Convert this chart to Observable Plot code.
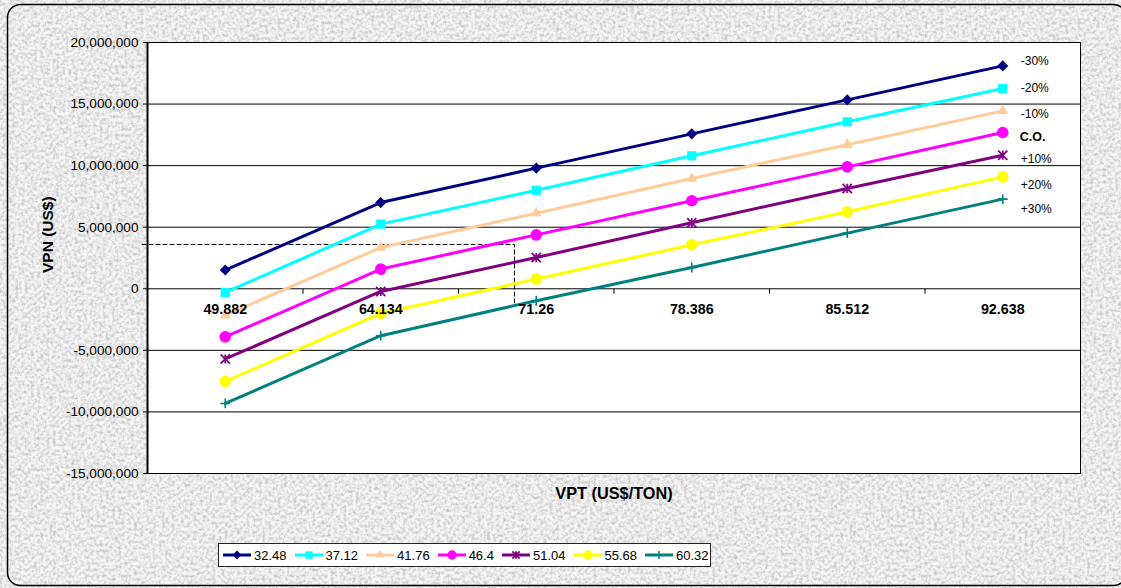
<!DOCTYPE html>
<html>
<head>
<meta charset="utf-8">
<script src="https://cdn.jsdelivr.net/npm/d3@7"></script>
<script src="https://cdn.jsdelivr.net/npm/@observablehq/plot@0.6"></script>
<style>
  html, body { margin: 0; padding: 0; }
  body {
    width: 1121px; height: 588px; overflow: hidden; position: relative;
    font-family: "Liberation Sans", Arial, sans-serif; background: #ececec;
  }
  #bg, #chart { position: absolute; left: 0; top: 0; }
  #legend {
    position: absolute; left: 218px; top: 543px; width: 487px; height: 22px;
    border: 1px solid #222; background: #fff; box-sizing: content-box;
    display: flex; align-items: center; padding-left: 4px;
    font-size: 13px; color: #000;
  }
  #legend .item { display: flex; align-items: center; margin-right: 8px; }
  #legend svg { margin-right: 3px; }
</style>
</head>
<body>
<svg id="bg" width="1121" height="588">
  <defs>
    <filter id="grain" x="0" y="0" width="100%" height="100%">
      <feTurbulence type="fractalNoise" baseFrequency="0.32" numOctaves="4" seed="11"/>
      <feColorMatrix type="matrix"
        values="0 0 0 0 0.55  0 0 0 0 0.55  0 0 0 0 0.55  2.1 0 0 0 -0.8"/>
    </filter>
  </defs>
  <rect width="1121" height="588" fill="#f5f5f5"/>
  <rect width="1121" height="588" filter="url(#grain)"/>
  <rect x="7.5" y="4.5" width="1119" height="581" rx="13" fill="none" stroke="#000" stroke-width="1.5"/>
</svg>
<div id="chart"></div>
<div id="legend"></div>
<script>
// Price categories on the x axis (VPT, US$/ton)
const categories = ["49.882", "64.134", "71.26", "78.386", "85.512", "92.638"];

// One NPV series per cost level (legend values)
const seriesNames = ["32.48", "37.12", "41.76", "46.4", "51.04", "55.68", "60.32"];
const vpn_3248 = [1520000, 7000000, 9800000, 12580000, 15340000, 18100000];
const vpn_3712 = [-300000, 5250000, 8000000, 10800000, 13560000, 16260000];
const vpn_4176 = [-2150000, 3350000, 6140000, 8950000, 11700000, 14450000];
const vpn_4640 = [-3900000, 1600000, 4380000, 7150000, 9900000, 12690000];
const vpn_5104 = [-5700000, -220000, 2540000, 5360000, 8150000, 10850000];
const vpn_5568 = [-7520000, -2000000, 790000, 3570000, 6250000, 9090000];
const vpn_6032 = [-9310000, -3810000, -970000, 1730000, 4520000, 7280000];
const seriesValues = [vpn_3248, vpn_3712, vpn_4176, vpn_4640, vpn_5104, vpn_5568, vpn_6032];

// Sensitivity labels placed to the right of the last category
const sensLabels = ["-30%", "-20%", "-10%", "C.O.", "+10%", "+20%", "+30%"];
const sensLabelY = [18460000, 16290000, 14210000, 12310000, 10560000, 8390000, 6440000];

// Dashed reading guide: [category position, VPN]
const guide = [[-0.535, 3600000], [1.86, 3600000], [1.86, -1360000]];

// Y axis ticks
const yTicks = [-15000000, -10000000, -5000000, 0, 5000000, 10000000, 15000000, 20000000];

const colors = ["#000080", "#00FFFF", "#FFCC99", "#FF00FF", "#800080", "#FFFF00", "#008080"];

// Excel-like marker shapes
const starSym = {
  draw(ctx, size) {
    const r = Math.sqrt(size / Math.PI);
    ctx.moveTo(0, -r); ctx.lineTo(0, r);
    ctx.moveTo(-r, -r); ctx.lineTo(r, r);
    ctx.moveTo(-r, r); ctx.lineTo(r, -r);
  }
};
const plusSym = {
  draw(ctx, size) {
    const r = Math.sqrt(size / Math.PI);
    ctx.moveTo(0, -r); ctx.lineTo(0, r);
    ctx.moveTo(-r, 0); ctx.lineTo(r, 0);
  }
};
const tickSym = { draw(ctx) { ctx.moveTo(0, 0); ctx.lineTo(0, 5); } };

const markers = [
  {symbol: d3.symbolDiamond2, r: 5, filled: true},
  {symbol: d3.symbolSquare, r: 5.2, filled: true},
  {symbol: d3.symbolTriangle, r: 4.1, filled: true},
  {symbol: d3.symbolCircle, r: 5.8, filled: true},
  {symbol: starSym, r: 4.6, filled: false, sw: 1.8},
  {symbol: d3.symbolCircle, r: 5.8, filled: true},
  {symbol: plusSym, r: 4.9, filled: false, sw: 1.6}
];

const rows = seriesNames.flatMap((s, k) =>
  seriesValues[k].map((v, i) => ({series: s, i, v}))
);

const dividers = [-0.5, 0.5, 1.5, 2.5, 3.5, 4.5, 5.5];

const font = "'Liberation Sans', Arial, sans-serif";
const fmt = d3.formatLocale({decimal: ".", thousands: ",", grouping: [3], currency: ["$", ""], minus: "-"}).format(",");

const chart = Plot.plot({
  width: 1121,
  height: 530,
  marginLeft: 147,
  marginRight: 41,
  marginTop: 42,
  marginBottom: 57,
  style: {background: "transparent", fontFamily: font, color: "#000", overflow: "visible"},
  x: {domain: [-0.5, 5.5], axis: null},
  y: {domain: [-15000000, 20000000], axis: null},
  color: {domain: seriesNames, range: colors},
  marks: [
    Plot.frame({fill: "#fff", stroke: null}),
    Plot.ruleY(yTicks.slice(1, -1), {stroke: "#000", strokeWidth: 1}),
    Plot.axisY({
      ticks: yTicks, tickFormat: fmt, tickSize: 4, tickPadding: 5,
      fontSize: 13.6, label: null, stroke: "#000"
    }),
    Plot.dot(dividers, {x: d => d, y: 0, symbol: tickSym, stroke: "#000", fill: "none", strokeWidth: 1}),
    Plot.line(guide, {x: d => d[0], y: d => d[1], stroke: "#000", strokeWidth: 1, strokeDasharray: "4,3"}),
    Plot.line(rows, {x: "i", y: "v", z: "series", stroke: "series", strokeWidth: 3}),
    ...seriesNames.map((s, k) => {
      const m = markers[k];
      const data = rows.filter(d => d.series === s);
      return m.filled
        ? Plot.dot(data, {x: "i", y: "v", symbol: m.symbol, r: m.r, fill: colors[k], stroke: null})
        : Plot.dot(data, {x: "i", y: "v", symbol: m.symbol, r: m.r, fill: "none", stroke: colors[k], strokeWidth: m.sw});
    }),
    Plot.text(categories, {x: (d, i) => i, y: 0, dy: 21, fontWeight: "bold", fontSize: 14.3, fill: "#000"}),
    Plot.text(sensLabels.map((t, i) => ({t, y: sensLabelY[i]})).filter(d => d.t !== "C.O."),
      {x: 5, y: "y", text: "t", dx: 18, textAnchor: "start", fontSize: 12, fill: "#000"}),
    Plot.text(sensLabels.map((t, i) => ({t, y: sensLabelY[i]})).filter(d => d.t === "C.O."),
      {x: 5, y: "y", text: "t", dx: 17, textAnchor: "start", fontSize: 12.5, fontWeight: "bold", fill: "#000"}),
    Plot.ruleX([-0.5], {stroke: "#000", strokeWidth: 2}),
    Plot.frame({stroke: "#000", strokeWidth: 1}),
    Plot.text(["VPN (US$)"], {frameAnchor: "left", dx: -99, dy: 15, rotate: -90, fontWeight: "bold", fontSize: 15.5, fill: "#000"}),
    Plot.text(["VPT (US$/TON)"], {frameAnchor: "bottom", dy: 25, fontWeight: "bold", fontSize: 16.3, fill: "#000"})
  ]
});
document.getElementById("chart").appendChild(chart);

// Legend: line swatch with marker, then the series value
const legend = d3.select("#legend");
seriesNames.forEach((s, k) => {
  const m = markers[k];
  const item = legend.append("div").attr("class", "item");
  const svg = item.append("svg").attr("width", 28).attr("height", 14);
  svg.append("line").attr("x1", 0).attr("x2", 28).attr("y1", 7).attr("y2", 7)
    .attr("stroke", colors[k]).attr("stroke-width", 3);
  const rr = m.r * 0.8;
  svg.append("path")
    .attr("transform", "translate(14,7)")
    .attr("d", d3.symbol(m.symbol, Math.PI * rr * rr)())
    .attr("fill", m.filled ? colors[k] : "none")
    .attr("stroke", m.filled ? "none" : colors[k])
    .attr("stroke-width", m.sw || 0);
  item.append("span").text(s);
});
</script>
</body>
</html>
